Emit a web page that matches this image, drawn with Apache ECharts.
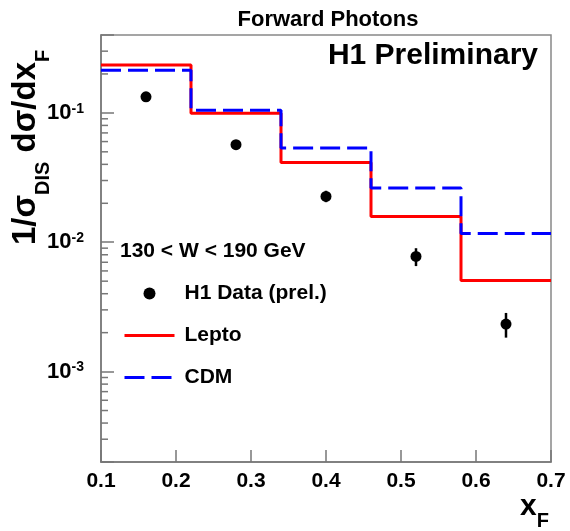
<!DOCTYPE html>
<html>
<head>
<meta charset="utf-8">
<script src="https://cdn.jsdelivr.net/npm/echarts@6/dist/echarts.min.js"></script>
<style>
  html, body { margin: 0; padding: 0; background: #fff; }
  #main { width: 570px; height: 531px; }
</style>
</head>
<body>
<div id="main"></div>
<script>
// bin edges of the MC histograms
const binEdges = [0.1, 0.22, 0.34, 0.46, 0.58, 0.7]
const leptoVals = [0.234, 0.0994, 0.0413, 0.0158, 0.00507]
const cdmVals = [0.214, 0.105, 0.0535, 0.0263, 0.0117]

// H1 data points
const dataX = [0.16, 0.28, 0.40, 0.52, 0.64]
const dataY = [0.133, 0.0568, 0.0226, 0.00776, 0.00233]
const dataLo = [0.126, 0.0540, 0.0204, 0.00654, 0.00183]
const dataHi = [0.140, 0.0597, 0.0250, 0.00899, 0.00284]

// axis ranges / ticks
const xMin = 0.1
const xMax = 0.7
const yMin = 0.0002
const yMax = 0.4
const yMinorTicks = [0.0003, 0.0004, 0.0005, 0.0006, 0.0007, 0.0008, 0.0009,
  0.002, 0.003, 0.004, 0.005, 0.006, 0.007, 0.008, 0.009,
  0.02, 0.03, 0.04, 0.05, 0.06, 0.07, 0.08, 0.09,
  0.2, 0.3]

const FONT = '"Liberation Sans", Arial, Helvetica, sans-serif'
const AXIS_GRAY = '#777'

// histogram -> step line points (last bin value repeated at right edge)
function histPoints(vals) {
  return binEdges.map((e, i) => [e, vals[Math.min(i, vals.length - 1)]])
}

const chart = echarts.init(document.getElementById('main'))

const option = {
  animation: false,
  grid: {
    left: 101, right: 19, top: 35, bottom: 69,
    show: true,
    borderColor: '#888',
    borderWidth: 1.5
  },
  xAxis: {
    type: 'value',
    min: xMin,
    max: xMax,
    interval: 0.1,
    axisLine: { lineStyle: { color: AXIS_GRAY, width: 1.5 } },
    axisTick: { inside: true, length: 12, lineStyle: { color: AXIS_GRAY, width: 1.5 } },
    splitLine: { show: false },
    axisLabel: {
      margin: 9,
      color: '#000',
      fontFamily: FONT,
      fontWeight: 'bold',
      fontSize: 21,
      formatter: v => v.toFixed(1)
    }
  },
  yAxis: {
    type: 'log',
    logBase: 10,
    min: yMin,
    max: yMax,
    axisLine: { show: true, lineStyle: { color: AXIS_GRAY, width: 1.5 } },
    axisTick: { inside: true, length: 13, lineStyle: { color: AXIS_GRAY, width: 1.5 } },
    splitLine: { show: false },
    axisLabel: {
      margin: 17,
      color: '#000',
      fontFamily: FONT,
      formatter: function (v) {
        const e = Math.round(Math.log10(v))
        if (Math.abs(Math.log10(v) - e) > 1e-6) return ''
        return '{b|10}{s|' + e + '}'
      },
      rich: {
        b: { fontFamily: FONT, fontWeight: 'bold', fontSize: 22, lineHeight: 22, color: '#000' },
        s: { fontFamily: FONT, fontWeight: 'bold', fontSize: 14, lineHeight: 14, verticalAlign: 'top', color: '#000' }
      }
    }
  },
  legend: {
    orient: 'vertical',
    left: 123,
    top: 283,
    padding: 0,
    itemWidth: 50,
    itemHeight: 12,
    itemGap: 21,
    selectedMode: false,
    lineStyle: { width: 3 },
    data: [
      { name: 'H1 Data (prel.)', icon: 'circle' },
      { name: 'Lepto', itemStyle: { opacity: 0 } },
      { name: 'CDM', itemStyle: { opacity: 0 } }
    ],
    textStyle: {
      color: '#000',
      fontFamily: FONT,
      fontWeight: 'bold',
      fontSize: 21,
      padding: [0, 0, 0, 5]
    }
  },
  graphic: [
    {
      type: 'text',
      x: 328, y: 20,
      style: {
        text: 'Forward Photons',
        fill: '#000',
        font: 'bold 22px ' + FONT,
        textAlign: 'center',
        textVerticalAlign: 'middle'
      }
    },
    {
      type: 'text',
      x: 538, y: 56,
      style: {
        text: 'H1 Preliminary',
        fill: '#000',
        font: 'bold 30px ' + FONT,
        textAlign: 'right',
        textVerticalAlign: 'middle'
      }
    },
    {
      type: 'text',
      x: 120, y: 251,
      style: {
        text: '130 < W < 190 GeV',
        fill: '#000',
        font: 'bold 21px ' + FONT,
        textAlign: 'left',
        textVerticalAlign: 'middle'
      }
    },
    {
      // y axis title, rotated
      type: 'text',
      x: 6, y: 245,
      rotation: Math.PI / 2,
      style: {
        text: '{m|1/σ}{s|DIS}{m| dσ/dx}{s|F}',
        textAlign: 'left',
        textVerticalAlign: 'top',
        rich: {
          m: { fontFamily: FONT, fontWeight: 'bold', fontSize: 33, lineHeight: 40, fill: '#000' },
          s: { fontFamily: FONT, fontWeight: 'bold', fontSize: 20, lineHeight: 20, padding: [35, 0, 0, 0], fill: '#000' }
        }
      }
    },
    {
      // x axis title
      type: 'text',
      x: 549, y: 492,
      style: {
        text: '{m|x}{s|F}',
        textAlign: 'right',
        textVerticalAlign: 'top',
        rich: {
          m: { fontFamily: FONT, fontWeight: 'bold', fontSize: 30, lineHeight: 30, fill: '#000' },
          s: { fontFamily: FONT, fontWeight: 'bold', fontSize: 20, lineHeight: 20, padding: [28, 0, 0, 0], fill: '#000' }
        }
      }
    }
  ],
  series: [
    {
      // minor ticks of the log axis
      type: 'custom',
      silent: true,
      z: 3,
      data: yMinorTicks.map(v => [xMin, v]),
      renderItem: function (params, api) {
        const p = api.coord([xMin, api.value(1)])
        return {
          type: 'line',
          shape: { x1: p[0], y1: p[1], x2: p[0] + 7, y2: p[1] },
          style: { stroke: AXIS_GRAY, lineWidth: 1.5 }
        }
      }
    },
    {
      name: 'Lepto',
      type: 'line',
      step: 'end',
      symbol: 'none',
      z: 4,
      data: histPoints(leptoVals),
      itemStyle: { color: '#ff0000' },
      lineStyle: { color: '#ff0000', width: 3 }
    },
    {
      name: 'CDM',
      type: 'line',
      step: 'end',
      symbol: 'none',
      z: 5,
      data: histPoints(cdmVals),
      itemStyle: { color: '#0000ff' },
      lineStyle: { color: '#0000ff', width: 3, type: [20, 7] }
    },
    {
      // error bars
      type: 'custom',
      silent: true,
      z: 6,
      data: dataX.map((x, i) => [x, dataLo[i], dataHi[i]]),
      encode: { x: 0, y: [1, 2] },
      renderItem: function (params, api) {
        const lo = api.coord([api.value(0), api.value(1)])
        const hi = api.coord([api.value(0), api.value(2)])
        return {
          type: 'line',
          shape: { x1: lo[0], y1: lo[1], x2: hi[0], y2: hi[1] },
          style: { stroke: '#000', lineWidth: 2.5 }
        }
      }
    },
    {
      name: 'H1 Data (prel.)',
      type: 'scatter',
      symbol: 'circle',
      symbolSize: 11,
      z: 7,
      data: dataX.map((x, i) => [x, dataY[i]]),
      itemStyle: { color: '#000', opacity: 1 }
    }
  ]
}

chart.setOption(option)
</script>
</body>
</html>
